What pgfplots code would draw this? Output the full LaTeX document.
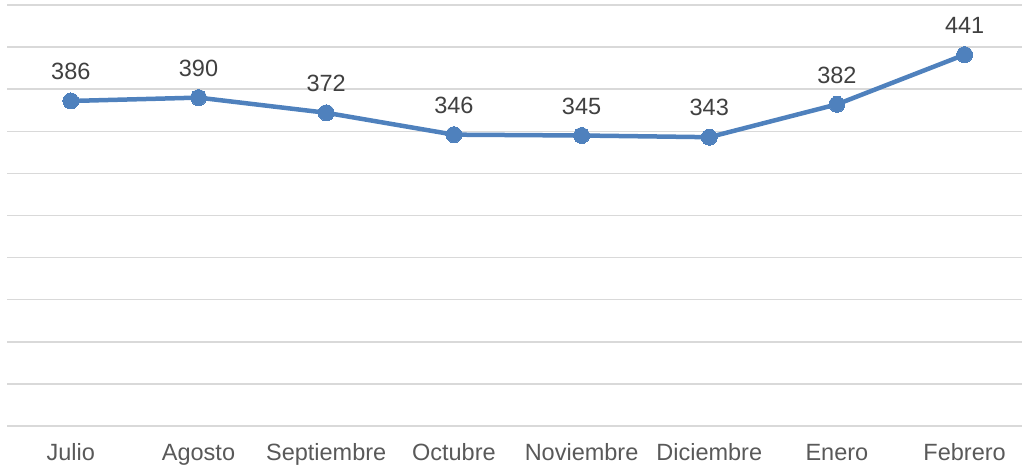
\documentclass[border=0pt]{standalone}
\usepackage{pgfplots}
\pgfplotsset{compat=1.18}
\usepackage{fontspec}
\setmainfont{Liberation Sans}
\definecolor{lineblue}{RGB}{79,129,189}
\definecolor{gridgray}{RGB}{217,217,217}
\definecolor{labgray}{RGB}{64,64,64}
\definecolor{tickgray}{RGB}{89,89,89}
\begin{document}
\begin{tikzpicture}
\useasboundingbox (0,0) rectangle (1026bp,476bp);
\begin{axis}[
  at={(7bp,50bp)}, anchor=south west,
  scale only axis,
  width=1015bp, height=421bp,
  xmin=-0.5, xmax=7.45,
  ymin=0, ymax=500,
  ytick={0,50,...,500},
  yticklabels={},
  xtick={0,...,7},
  xticklabels={Julio,Agosto,Septiembre,Octubre,Noviembre,Diciembre,Enero,Febrero},
  typeset ticklabels with strut,
  major tick length=0pt,
  axis line style={draw=none},
  ymajorgrids,
  grid style={gridgray, line width=1.5bp},
  xticklabel style={font=\fontsize{23.5bp}{28bp}\selectfont, text=tickgray, anchor=north, inner sep=0pt, yshift=-15bp},
  /pgf/number format/assume math mode=true,
  clip=false,
]
\addplot[lineblue, line width=4.5bp, mark=*, mark size=8bp, mark options={fill=lineblue, draw=lineblue, line width=0pt},
  nodes near coords={\pgfmathprintnumber[assume math mode=true]{\pgfplotspointmeta}},
  every node near coord/.append style={font=\fontsize{23.5bp}{28bp}\selectfont, text=labgray, anchor=south, inner sep=0pt, yshift=21bp},
] coordinates {
(0,386) (1,390) (2,372) (3,346) (4,345) (5,343) (6,382) (7,441)
};
\end{axis}
\end{tikzpicture}
\end{document}
